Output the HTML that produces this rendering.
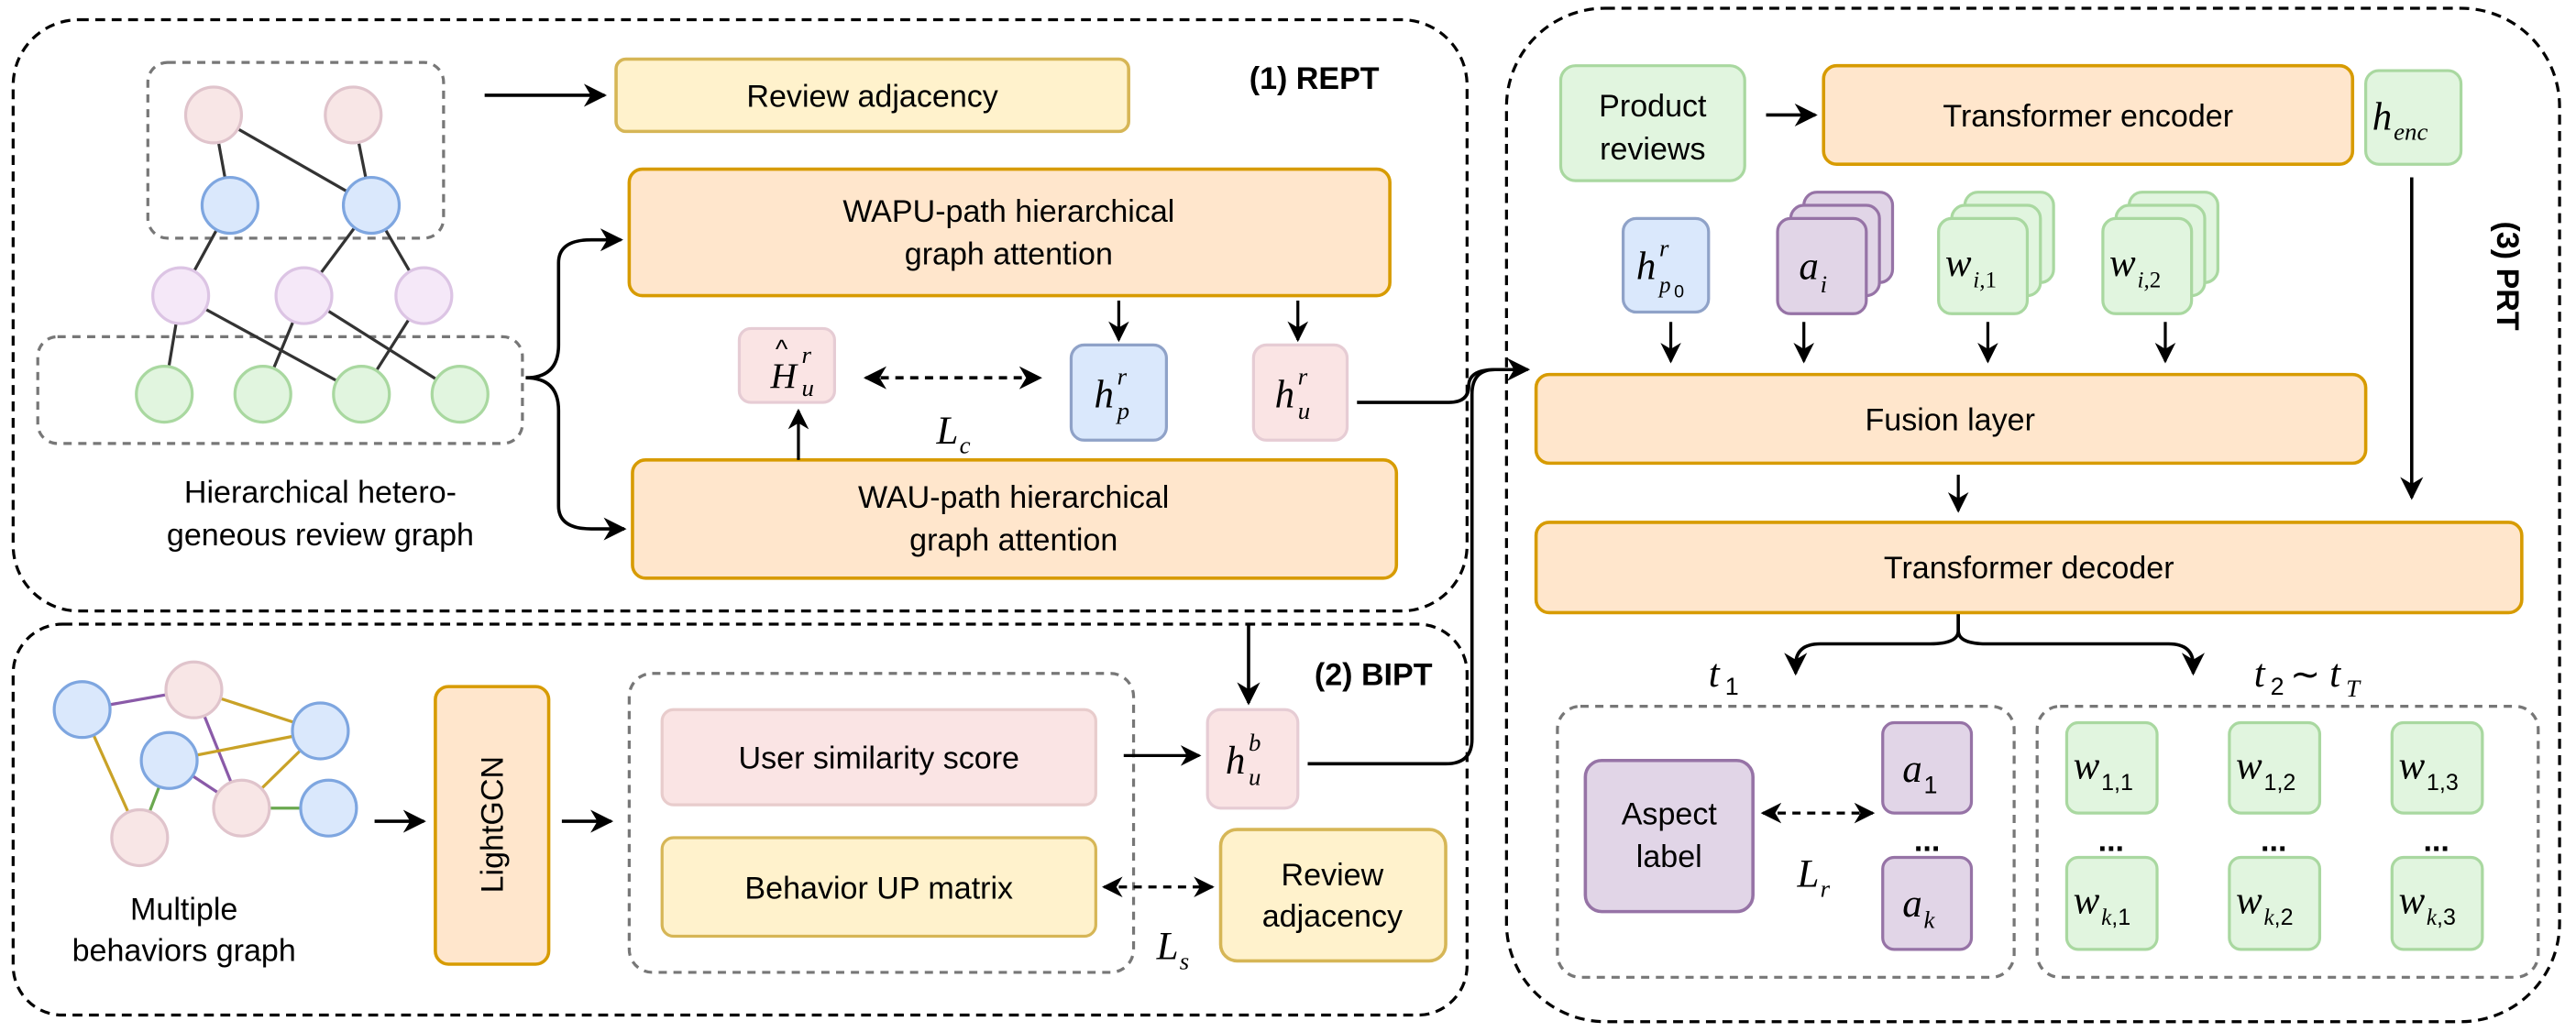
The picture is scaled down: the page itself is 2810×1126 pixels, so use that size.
<!DOCTYPE html>
<html><head><meta charset="utf-8"><style>
html,body{margin:0;padding:0;background:#fff;}
svg{display:block;}
text{font-family:"Liberation Sans",sans-serif;fill:#000;}
.m{font-family:"Liberation Serif",serif;font-style:italic;}
</style></head><body>
<svg width="2810" height="1126" viewBox="0 0 1568 628.3" preserveAspectRatio="none" xmlns="http://www.w3.org/2000/svg">
<defs>
<marker id="a" viewBox="0 0 10 10" refX="9" refY="5" markerWidth="7" markerHeight="7" orient="auto-start-reverse"><path d="M0,0 L10,5 L0,10 L3,5 z" fill="#000"/></marker>
</defs>
<g fill="none" stroke="#000" stroke-width="1.8" stroke-dasharray="6,4">
<rect x="8" y="12" width="885" height="360" rx="40"/>
<rect x="8" y="380" width="885" height="238" rx="30"/>
<rect x="917" y="5" width="641" height="617" rx="60"/>
</g>
<g fill="none" stroke="#777" stroke-width="1.8" stroke-dasharray="5,4">
<rect x="90" y="38" width="180" height="107" rx="12"/>
<rect x="23" y="205" width="295" height="65" rx="12"/>
<rect x="383" y="410" width="307" height="182" rx="14"/>
<rect x="948" y="430" width="278" height="165" rx="14"/>
<rect x="1240" y="430" width="305" height="165" rx="14"/>
</g>
<g stroke="#333" stroke-width="1.8">
<line x1="130" y1="70" x2="140" y2="125"/><line x1="130" y1="70" x2="226" y2="125"/><line x1="215" y1="70" x2="226" y2="125"/>
<line x1="140" y1="125" x2="110" y2="180"/><line x1="226" y1="125" x2="185" y2="180"/><line x1="226" y1="125" x2="258" y2="180"/>
<line x1="110" y1="180" x2="100" y2="240"/><line x1="110" y1="180" x2="220" y2="240"/><line x1="185" y1="180" x2="160" y2="240"/><line x1="185" y1="180" x2="280" y2="240"/><line x1="258" y1="180" x2="220" y2="240"/>
</g>
<g stroke-width="1.8">
<circle cx="130" cy="70" r="17" fill="#f8e6e6" stroke="#e0c4cc"/><circle cx="215" cy="70" r="17" fill="#f8e6e6" stroke="#e0c4cc"/>
<circle cx="140" cy="125" r="17" fill="#dae8fc" stroke="#7ea6e0"/><circle cx="226" cy="125" r="17" fill="#dae8fc" stroke="#7ea6e0"/>
<circle cx="110" cy="180" r="17" fill="#f5e8f8" stroke="#dcc4e4"/><circle cx="185" cy="180" r="17" fill="#f5e8f8" stroke="#dcc4e4"/><circle cx="258" cy="180" r="17" fill="#f5e8f8" stroke="#dcc4e4"/>
<circle cx="100" cy="240" r="17" fill="#e1f5df" stroke="#a9d8a0"/><circle cx="160" cy="240" r="17" fill="#e1f5df" stroke="#a9d8a0"/><circle cx="220" cy="240" r="17" fill="#e1f5df" stroke="#a9d8a0"/><circle cx="280" cy="240" r="17" fill="#e1f5df" stroke="#a9d8a0"/>
</g>
<text x="195" y="306" font-size="19" text-anchor="middle">Hierarchical hetero-</text>
<text x="195" y="332" font-size="19" text-anchor="middle">geneous review graph</text>
<line x1="295" y1="58" x2="368" y2="58" stroke="#000" stroke-width="2" marker-end="url(#a)"/>
<rect x="375" y="36" width="312" height="44" rx="6" fill="#fff2cc" stroke="#d6b656" stroke-width="2"/>
<text x="531" y="65" font-size="19" text-anchor="middle">Review adjacency</text>
<text x="800" y="54" font-size="19" font-weight="bold" text-anchor="middle">(1) REPT</text>
<rect x="383" y="103" width="463" height="77" rx="8" fill="#ffe6cc" stroke="#d79b00" stroke-width="2"/>
<text x="614" y="135" font-size="19" text-anchor="middle">WAPU-path hierarchical</text>
<text x="614" y="161" font-size="19" text-anchor="middle">graph attention</text>
<rect x="385" y="280" width="465" height="72" rx="8" fill="#ffe6cc" stroke="#d79b00" stroke-width="2"/>
<text x="617" y="309" font-size="19" text-anchor="middle">WAU-path hierarchical</text>
<text x="617" y="335" font-size="19" text-anchor="middle">graph attention</text>
<path d="M320,230 Q340,230 340,210 L340,160 Q340,146 360,146 L378,146" fill="none" stroke="#000" stroke-width="2" marker-end="url(#a)"/>
<path d="M320,230 Q340,230 340,250 L340,308 Q340,322 360,322 L380,322" fill="none" stroke="#000" stroke-width="2" marker-end="url(#a)"/>
<rect x="450" y="200" width="58" height="45" rx="7" fill="#fae4e4" stroke="#e6ccd4" stroke-width="1.8"/>
<text x="469" y="236" font-size="22" class="m">H</text><text x="472" y="218" font-size="16">^</text><text x="488" y="221" font-size="15" class="m">r</text><text x="488" y="241" font-size="15" class="m">u</text>
<line x1="527" y1="230" x2="633" y2="230" stroke="#000" stroke-width="2" stroke-dasharray="5,4" marker-start="url(#a)" marker-end="url(#a)"/>
<text x="570" y="270" font-size="24" class="m">L</text><text x="584" y="276" font-size="15" class="m">c</text>
<rect x="652" y="210" width="58" height="58" rx="8" fill="#dae8fc" stroke="#8fa2c8" stroke-width="1.8"/>
<text x="666" y="248" font-size="24" class="m">h</text><text x="680" y="234" font-size="15" class="m">r</text><text x="680" y="255" font-size="15" class="m">p</text>
<rect x="763" y="210" width="57" height="58" rx="8" fill="#fae4e4" stroke="#e6ccd4" stroke-width="1.8"/>
<text x="776" y="248" font-size="24" class="m">h</text><text x="790" y="234" font-size="15" class="m">r</text><text x="790" y="255" font-size="15" class="m">u</text>
<line x1="681" y1="183" x2="681" y2="207" stroke="#000" stroke-width="1.8" marker-end="url(#a)"/>
<line x1="790" y1="183" x2="790" y2="207" stroke="#000" stroke-width="1.8" marker-end="url(#a)"/>
<line x1="486" y1="280" x2="486" y2="250" stroke="#000" stroke-width="1.8" marker-end="url(#a)"/>
<path d="M826,245 L882,245 Q894,245 894,235 Q894,225 910,225 L930,225" fill="none" stroke="#000" stroke-width="2" marker-end="url(#a)"/>
<g stroke-width="1.8">
<line x1="50" y1="432" x2="118" y2="420" stroke="#8a5aa8"/>
<line x1="50" y1="432" x2="85" y2="510" stroke="#c9a227"/>
<line x1="118" y1="420" x2="147" y2="492" stroke="#8a5aa8"/>
<line x1="118" y1="420" x2="195" y2="445" stroke="#c9a227"/>
<line x1="103" y1="463" x2="147" y2="492" stroke="#8a5aa8"/>
<line x1="103" y1="463" x2="85" y2="510" stroke="#6aa84f"/>
<line x1="147" y1="492" x2="195" y2="445" stroke="#c9a227"/>
<line x1="147" y1="492" x2="200" y2="492" stroke="#6aa84f"/>
<line x1="103" y1="463" x2="195" y2="445" stroke="#c9a227"/>
<circle cx="118" cy="420" r="17" fill="#f8e6e6" stroke="#e0c4cc"/><circle cx="85" cy="510" r="17" fill="#f8e6e6" stroke="#e0c4cc"/><circle cx="147" cy="492" r="17" fill="#f8e6e6" stroke="#e0c4cc"/>
<circle cx="50" cy="432" r="17" fill="#dae8fc" stroke="#7ea6e0"/><circle cx="103" cy="463" r="17" fill="#dae8fc" stroke="#7ea6e0"/><circle cx="195" cy="445" r="17" fill="#dae8fc" stroke="#7ea6e0"/><circle cx="200" cy="492" r="17" fill="#dae8fc" stroke="#7ea6e0"/>
</g>
<text x="112" y="560" font-size="19" text-anchor="middle">Multiple</text>
<text x="112" y="585" font-size="19" text-anchor="middle">behaviors graph</text>
<line x1="228" y1="500" x2="258" y2="500" stroke="#000" stroke-width="2" marker-end="url(#a)"/>
<rect x="265" y="418" width="69" height="169" rx="8" fill="#ffe6cc" stroke="#d79b00" stroke-width="2"/>
<text transform="translate(306,502) rotate(-90)" font-size="19" text-anchor="middle">LightGCN</text>
<line x1="342" y1="500" x2="372" y2="500" stroke="#000" stroke-width="2" marker-end="url(#a)"/>
<rect x="403" y="432" width="264" height="58" rx="7" fill="#fae4e4" stroke="#e8cccc" stroke-width="1.8"/>
<text x="535" y="468" font-size="19" text-anchor="middle">User similarity score</text>
<rect x="403" y="510" width="264" height="60" rx="7" fill="#fff2cc" stroke="#d6b656" stroke-width="1.8"/>
<text x="535" y="547" font-size="19" text-anchor="middle">Behavior UP matrix</text>
<line x1="684" y1="460" x2="730" y2="460" stroke="#000" stroke-width="1.8" marker-end="url(#a)"/>
<rect x="735" y="432" width="55" height="60" rx="8" fill="#fae4e4" stroke="#e6ccd4" stroke-width="1.8"/>
<text x="746" y="471" font-size="24" class="m">h</text><text x="760" y="457" font-size="15" class="m">b</text><text x="760" y="478" font-size="15" class="m">u</text>
<line x1="760" y1="380" x2="760" y2="428" stroke="#000" stroke-width="2" marker-end="url(#a)"/>
<text x="836" y="417" font-size="19" font-weight="bold" text-anchor="middle">(2) BIPT</text>
<rect x="743" y="505" width="137" height="80" rx="10" fill="#fff2cc" stroke="#d6b656" stroke-width="2"/>
<text x="811" y="539" font-size="19" text-anchor="middle">Review</text>
<text x="811" y="564" font-size="19" text-anchor="middle">adjacency</text>
<line x1="672" y1="540" x2="738" y2="540" stroke="#000" stroke-width="1.8" stroke-dasharray="5,4" marker-start="url(#a)" marker-end="url(#a)"/>
<text x="704" y="584" font-size="24" class="m">L</text><text x="718" y="590" font-size="15" class="m">s</text>
<path d="M796,465 L880,465 Q896,465 896,450 L896,240 Q896,225 910,225" fill="none" stroke="#000" stroke-width="2"/>
<rect x="950" y="40" width="112" height="70" rx="9" fill="#e1f5df" stroke="#a9d8a0" stroke-width="1.8"/>
<text x="1006" y="71" font-size="19" text-anchor="middle">Product</text>
<text x="1006" y="97" font-size="19" text-anchor="middle">reviews</text>
<line x1="1075" y1="70" x2="1105" y2="70" stroke="#000" stroke-width="2" marker-end="url(#a)"/>
<rect x="1110" y="40" width="322" height="60" rx="8" fill="#ffe6cc" stroke="#d79b00" stroke-width="2"/>
<text x="1271" y="77" font-size="19" text-anchor="middle">Transformer encoder</text>
<line x1="1440" y1="70" x2="1470" y2="70" stroke="#000" stroke-width="2" marker-end="url(#a)"/>
<rect x="1440" y="43" width="58" height="57" rx="8" fill="#e1f5df" stroke="#a9d8a0" stroke-width="1.8"/>
<text x="1444" y="79" font-size="24" class="m">h</text><text x="1457" y="85" font-size="15" class="m">enc</text>
<line x1="1468" y1="108" x2="1468" y2="303" stroke="#000" stroke-width="2" marker-end="url(#a)"/>
<text transform="translate(1520,168) rotate(90)" font-size="19" font-weight="bold" text-anchor="middle">(3) PRT</text>
<rect x="988" y="133" width="52" height="57" rx="8" fill="#dae8fc" stroke="#8fa2c8" stroke-width="1.8"/>
<text x="996" y="170" font-size="24" class="m">h</text><text x="1010" y="156" font-size="15" class="m">r</text><text x="1010" y="178" font-size="14" class="m">p</text><text x="1019" y="181" font-size="11">0</text>
<g stroke="#9673a6" stroke-width="1.8" fill="#e1d5e7">
<rect x="1098" y="117" width="54" height="55" rx="8"/><rect x="1090" y="125" width="54" height="55" rx="8"/><rect x="1082" y="133" width="54" height="58" rx="8"/>
</g>
<text x="1095" y="170" font-size="24" class="m">a</text><text x="1108" y="178" font-size="15" class="m">i</text>
<g stroke="#a9d8a0" stroke-width="1.8" fill="#e1f5df">
<rect x="1196" y="117" width="54" height="55" rx="8"/><rect x="1188" y="125" width="54" height="55" rx="8"/><rect x="1180" y="133" width="54" height="58" rx="8"/>
<rect x="1296" y="117" width="54" height="55" rx="8"/><rect x="1288" y="125" width="54" height="55" rx="8"/><rect x="1280" y="133" width="54" height="58" rx="8"/>
</g>
<text x="1184" y="168" font-size="24" class="m">w</text><text x="1201" y="175" font-size="14" class="m">i,<tspan font-style="normal">1</tspan></text>
<text x="1284" y="168" font-size="24" class="m">w</text><text x="1301" y="175" font-size="14" class="m">i,<tspan font-style="normal">2</tspan></text>
<g stroke="#000" stroke-width="1.8">
<line x1="1017" y1="196" x2="1017" y2="220" marker-end="url(#a)"/>
<line x1="1098" y1="196" x2="1098" y2="220" marker-end="url(#a)"/>
<line x1="1210" y1="196" x2="1210" y2="220" marker-end="url(#a)"/>
<line x1="1318" y1="196" x2="1318" y2="220" marker-end="url(#a)"/>
<line x1="1192" y1="289" x2="1192" y2="311" marker-end="url(#a)"/>
</g>
<rect x="935" y="228" width="505" height="54" rx="8" fill="#ffe6cc" stroke="#d79b00" stroke-width="2"/>
<text x="1187" y="262" font-size="19" text-anchor="middle">Fusion layer</text>
<rect x="935" y="318" width="600" height="55" rx="8" fill="#ffe6cc" stroke="#d79b00" stroke-width="2"/>
<text x="1235" y="352" font-size="19" text-anchor="middle">Transformer decoder</text>
<path d="M1192,374 L1192,384 Q1192,392 1175,392 L1108,392 Q1093,392 1093,405 L1093,410" fill="none" stroke="#000" stroke-width="2" marker-end="url(#a)"/>
<path d="M1192,374 L1192,384 Q1192,392 1209,392 L1320,392 Q1335,392 1335,405 L1335,410" fill="none" stroke="#000" stroke-width="2" marker-end="url(#a)"/>
<text x="1040" y="418" font-size="24" class="m">t</text><text x="1050" y="423" font-size="15">1</text>
<text x="1372" y="418" font-size="24" class="m">t</text><text x="1382" y="423" font-size="15">2</text><text x="1394" y="418" font-size="22">∼</text><text x="1418" y="418" font-size="24" class="m">t</text><text x="1428" y="424" font-size="15" class="m">T</text>
<rect x="965" y="463" width="102" height="92" rx="10" fill="#e1d5e7" stroke="#9673a6" stroke-width="2"/>
<text x="1016" y="502" font-size="19" text-anchor="middle">Aspect</text>
<text x="1016" y="528" font-size="19" text-anchor="middle">label</text>
<line x1="1073" y1="495" x2="1140" y2="495" stroke="#000" stroke-width="1.8" stroke-dasharray="5,4" marker-start="url(#a)" marker-end="url(#a)"/>
<text x="1094" y="540" font-size="24" class="m">L</text><text x="1108" y="546" font-size="15" class="m">r</text>
<rect x="1146" y="440" width="54" height="55" rx="7" fill="#e1d5e7" stroke="#9673a6" stroke-width="1.8"/>
<text x="1158" y="476" font-size="24" class="m">a</text><text x="1171" y="483" font-size="15">1</text>
<text x="1173" y="518" font-size="19" font-weight="bold" text-anchor="middle">...</text>
<rect x="1146" y="522" width="54" height="56" rx="7" fill="#e1d5e7" stroke="#9673a6" stroke-width="1.8"/>
<text x="1158" y="558" font-size="24" class="m">a</text><text x="1171" y="565" font-size="15" class="m">k</text>
<g stroke="#a9d8a0" stroke-width="1.8" fill="#e1f5df">
<rect x="1258" y="440" width="55" height="55" rx="7"/><rect x="1357" y="440" width="55" height="55" rx="7"/><rect x="1456" y="440" width="55" height="55" rx="7"/>
<rect x="1258" y="522" width="55" height="56" rx="7"/><rect x="1357" y="522" width="55" height="56" rx="7"/><rect x="1456" y="522" width="55" height="56" rx="7"/>
</g>
<text x="1262" y="474" font-size="24" class="m">w</text><text x="1279" y="481" font-size="14">1,1</text>
<text x="1361" y="474" font-size="24" class="m">w</text><text x="1378" y="481" font-size="14">1,2</text>
<text x="1460" y="474" font-size="24" class="m">w</text><text x="1477" y="481" font-size="14">1,3</text>
<text x="1262" y="556" font-size="24" class="m">w</text><text x="1279" y="563" font-size="14"><tspan font-style="italic" font-family="Liberation Serif">k</tspan>,1</text>
<text x="1361" y="556" font-size="24" class="m">w</text><text x="1378" y="563" font-size="14"><tspan font-style="italic" font-family="Liberation Serif">k</tspan>,2</text>
<text x="1460" y="556" font-size="24" class="m">w</text><text x="1477" y="563" font-size="14"><tspan font-style="italic" font-family="Liberation Serif">k</tspan>,3</text>
<text x="1285" y="518" font-size="19" font-weight="bold" text-anchor="middle">...</text>
<text x="1384" y="518" font-size="19" font-weight="bold" text-anchor="middle">...</text>
<text x="1483" y="518" font-size="19" font-weight="bold" text-anchor="middle">...</text>
</svg>
</body></html>
